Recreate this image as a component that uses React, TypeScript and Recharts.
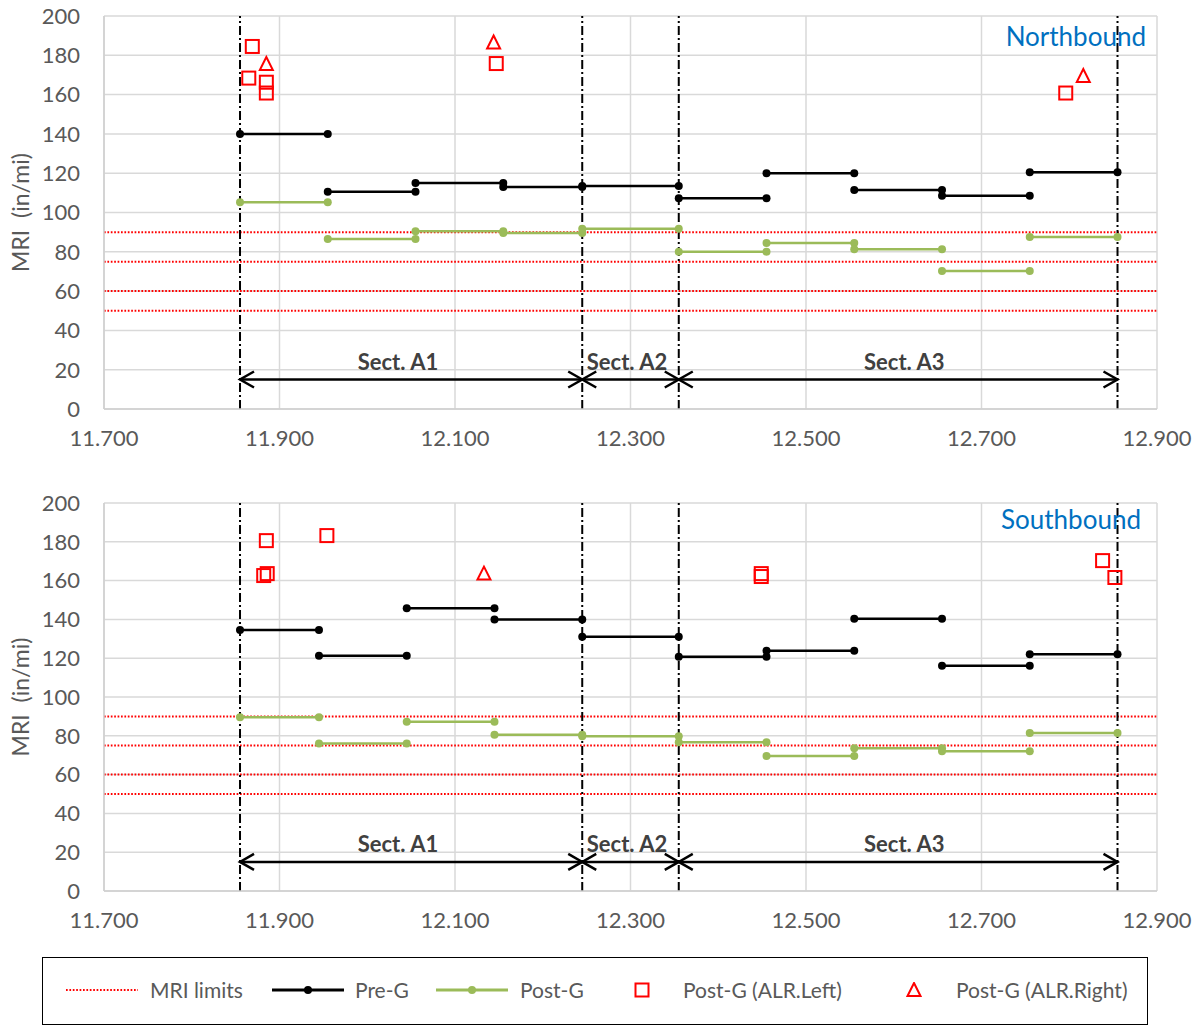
import React from 'react';
import { ComposedChart, Line, Scatter, XAxis, YAxis, CartesianGrid, ReferenceLine } from 'recharts';

const X_TICKS = [11.7, 11.9, 12.1, 12.3, 12.5, 12.7, 12.9];
const Y_TICKS = [0, 20, 40, 60, 80, 100, 120, 140, 160, 180, 200];
const MRI_LIMITS = [90, 75, 60, 50];
const SECTION_BOUNDS = [11.855, 12.245, 12.355, 12.855];
const SECTION_NAMES = ['Sect. A1', 'Sect. A2', 'Sect. A3'];
const SECTION_LABEL_X = [12.035, 12.296, 12.612];
const ARROW_Y = 15;
const LABEL_Y = 20;

// Northbound
const NB_BREAKS = [11.855, 11.955, 12.055, 12.155, 12.245, 12.355, 12.455, 12.555, 12.655, 12.755, 12.855];
const NB_PRE = [140, 110.5, 115, 113, 113.5, 107.3, 120, 111.5, 108.5, 120.5];
const NB_POST = [105.2, 86.5, 90.5, 89.6, 91.7, 80, 84.5, 81.3, 70.2, 87.5];
const NB_LEFT_X = [11.869, 11.865, 11.885, 11.885, 12.147, 12.796];
const NB_LEFT_Y = [184.5, 168.4, 166.3, 160.8, 175.8, 160.8];
const NB_RIGHT_X = [11.885, 12.144, 12.816];
const NB_RIGHT_Y = [175.6, 186.5, 169.5];

// Southbound
const SB_BREAKS = [11.855, 11.945, 12.045, 12.145, 12.245, 12.355, 12.455, 12.555, 12.655, 12.755, 12.855];
const SB_PRE = [134.6, 121.3, 145.8, 140, 131, 120.7, 123.8, 140.3, 116.1, 122];
const SB_POST = [89.5, 76, 87.2, 80.5, 79.8, 76.7, 69.6, 73.6, 72.1, 81.4];
const SB_LEFT_X = [11.885, 11.882, 11.886, 11.954, 12.449, 12.449, 12.838, 12.852];
const SB_LEFT_Y = [180.6, 162.6, 163.6, 183.2, 162.1, 163.6, 170.3, 161.6];
const SB_RIGHT_X = [12.133];
const SB_RIGHT_Y = [163.6];

const FONT = 'Lato, "Open Sans", sans-serif';
const GREY = '#595959';
const GREEN = '#9bbb59';
const RED = '#ff0000';

function segments(breaks: number[], vals: number[]) {
  return vals.map((v, i) => [
    { x: breaks[i], y: v },
    { x: breaks[i + 1], y: v },
  ]);
}

function points(xs: number[], ys: number[]) {
  return xs.map((x, i) => ({ x, y: ys[i] }));
}

const SquareShape = (p: any) => (
  <rect x={p.cx - 6.5} y={p.cy - 6.5} width={13} height={13} fill="none" stroke={RED} strokeWidth={2} />
);

const TriangleShape = (p: any) => (
  <path
    d={`M${p.cx},${p.cy - 7} L${p.cx + 6.5},${p.cy + 6} L${p.cx - 6.5},${p.cy + 6} Z`}
    fill="none"
    stroke={RED}
    strokeWidth={2}
  />
);

const ArrowDot = (p: any) => {
  const dir = p.index === 0 ? 1 : -1;
  return (
    <path
      key={`ah-${p.index}-${p.cx}`}
      d={`M${p.cx + dir * 14},${p.cy - 8} L${p.cx},${p.cy} L${p.cx + dir * 14},${p.cy + 8}`}
      fill="none"
      stroke="#000"
      strokeWidth={2.5}
    />
  );
};

const SectionLabel = (p: any) => (
  <text
    x={p.cx}
    y={p.cy}
    textAnchor="middle"
    fontFamily={FONT}
    fontWeight={700}
    fontSize={22}
    fill="#404040"
  >
    {p.payload.label}
  </text>
);

function Panel({ pre, post, breaks, leftPts, rightPts, top, height, marginTop }: any) {
  const preSegs = segments(breaks, pre);
  const postSegs = segments(breaks, post);
  const arrows = SECTION_BOUNDS.slice(0, -1).map((b, i) => [
    { x: b, y: ARROW_Y },
    { x: SECTION_BOUNDS[i + 1], y: ARROW_Y },
  ]);
  const labels = SECTION_NAMES.map((label, i) => ({ x: SECTION_LABEL_X[i], y: LABEL_Y, label }));

  return (
    <div style={{ position: 'absolute', left: 0, top }}>
      <ComposedChart width={1198} height={460} margin={{ top: marginTop, right: 41, bottom: 460 - marginTop - height - 40, left: 0 }}>
        <CartesianGrid stroke="#d9d9d9" strokeWidth={1.5} />
        <XAxis
          type="number"
          dataKey="x"
          domain={[11.7, 12.9]}
          ticks={X_TICKS}
          allowDataOverflow
          height={40}
          tickSize={0}
          tickMargin={21}
          tickFormatter={(v: number) => v.toFixed(3)}
          tick={{ fill: GREY, fontSize: 22, fontFamily: FONT }}
          axisLine={{ stroke: '#cfcfcf', strokeWidth: 1.5 }}
        />
        <YAxis
          type="number"
          dataKey="y"
          domain={[0, 200]}
          ticks={Y_TICKS}
          width={104}
          tickSize={0}
          tickMargin={24}
          tick={{ fill: GREY, fontSize: 22, fontFamily: FONT }}
          axisLine={{ stroke: '#cfcfcf', strokeWidth: 1.5 }}
          label={{
            value: 'MRI\u00a0\u00a0(in/mi)',
            angle: -90,
            position: 'insideLeft',
            offset: 21,
            style: { textAnchor: 'middle', fill: GREY, fontSize: 23, fontFamily: FONT },
          }}
        />
        {MRI_LIMITS.map((v) => (
          <ReferenceLine key={`mri-${v}`} y={v} stroke={RED} strokeWidth={2} strokeDasharray="1.7 1.7" />
        ))}
        {SECTION_BOUNDS.map((b) => (
          <ReferenceLine key={`sb-${b}`} x={b} stroke="#000" strokeWidth={2} strokeDasharray="9 3 2 3" />
        ))}
        {arrows.map((d, i) => (
          <Line
            key={`arrow-${i}`}
            data={d}
            dataKey="y"
            stroke="#000"
            strokeWidth={2.5}
            dot={ArrowDot}
            activeDot={false}
            legendType="none"
            isAnimationActive={false}
          />
        ))}
        <Scatter data={labels} shape={SectionLabel} legendType="none" isAnimationActive={false} />
        {preSegs.map((d, i) => (
          <Line
            key={`pre-${i}`}
            data={d}
            dataKey="y"
            stroke="#000"
            strokeWidth={2.5}
            dot={{ r: 4, fill: '#000', stroke: '#000', strokeWidth: 0 }}
            activeDot={false}
            isAnimationActive={false}
          />
        ))}
        {postSegs.map((d, i) => (
          <Line
            key={`post-${i}`}
            data={d}
            dataKey="y"
            stroke={GREEN}
            strokeWidth={2.5}
            dot={{ r: 4, fill: GREEN, stroke: GREEN, strokeWidth: 0 }}
            activeDot={false}
            isAnimationActive={false}
          />
        ))}
        <Scatter data={leftPts} shape={SquareShape} isAnimationActive={false} />
        <Scatter data={rightPts} shape={TriangleShape} isAnimationActive={false} />
      </ComposedChart>
    </div>
  );
}

const legendText: React.CSSProperties = {
  position: 'absolute',
  top: 20,
  fontSize: 21,
  lineHeight: '24px',
  color: GREY,
  fontFamily: FONT,
  whiteSpace: 'nowrap',
};

function LineIcon({ left, color, dotted, dot }: any) {
  return (
    <svg style={{ position: 'absolute', left, top: 26 }} width={72} height={12}>
      <line
        x1={0}
        y1={6}
        x2={72}
        y2={6}
        stroke={color}
        strokeWidth={dotted ? 2 : 3}
        strokeDasharray={dotted ? '1.7 1.7' : undefined}
      />
      {dot && <circle cx={36} cy={6} r={4} fill={color} />}
    </svg>
  );
}

export default function App() {
  return (
    <div style={{ position: 'absolute', left: 0, top: 0, width: 1198, height: 1025, background: '#fff', fontFamily: FONT }}>
      <Panel
        top={0}
        marginTop={16}
        height={393}
        pre={NB_PRE}
        post={NB_POST}
        breaks={NB_BREAKS}
        leftPts={points(NB_LEFT_X, NB_LEFT_Y)}
        rightPts={points(NB_RIGHT_X, NB_RIGHT_Y)}
      />
      <Panel
        top={480}
        marginTop={23}
        height={388}
        pre={SB_PRE}
        post={SB_POST}
        breaks={SB_BREAKS}
        leftPts={points(SB_LEFT_X, SB_LEFT_Y)}
        rightPts={points(SB_RIGHT_X, SB_RIGHT_Y)}
      />
      <div style={{ position: 'absolute', right: 52, top: 21, fontSize: 26, lineHeight: '30px', color: '#0070c0' }}>
        Northbound
      </div>
      <div style={{ position: 'absolute', right: 57, top: 504, fontSize: 26, lineHeight: '30px', color: '#0070c0' }}>
        Southbound
      </div>
      <div
        style={{
          position: 'absolute',
          left: 42,
          top: 957,
          width: 1106,
          height: 68,
          border: '1.5px solid #000',
          boxSizing: 'border-box',
        }}
      >
        <LineIcon left={23} color={RED} dotted />
        <span style={{ ...legendText, left: 107 }}>MRI limits</span>
        <LineIcon left={229} color="#000" dot />
        <span style={{ ...legendText, left: 312 }}>Pre-G</span>
        <LineIcon left={393} color={GREEN} dot />
        <span style={{ ...legendText, left: 477 }}>Post-G</span>
        <svg style={{ position: 'absolute', left: 591, top: 24 }} width={16} height={16}>
          <rect x={1.5} y={1.5} width={13} height={13} fill="none" stroke={RED} strokeWidth={2} />
        </svg>
        <span style={{ ...legendText, left: 640 }}>Post-G (ALR.Left)</span>
        <svg style={{ position: 'absolute', left: 863, top: 24 }} width={16} height={16}>
          <path d="M8,1 L14.5,14 L1.5,14 Z" fill="none" stroke={RED} strokeWidth={2} />
        </svg>
        <span style={{ ...legendText, left: 913 }}>Post-G (ALR.Right)</span>
      </div>
    </div>
  );
}
